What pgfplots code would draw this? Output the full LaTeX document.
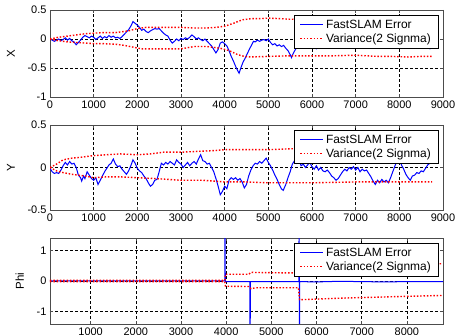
\documentclass[border=0pt]{standalone}
\usepackage{fontspec}
\setmainfont{Liberation Sans}
\usepackage{pgfplots}
\pgfplotsset{compat=1.18}
\definecolor{mblue}{RGB}{0,0,255}
\definecolor{mred}{RGB}{255,0,0}
\pgfplotsset{
  legend image code/.code={\draw[#1] (0bp,0bp) -- (23bp,0bp);},
  mystyle/.style={
    scale only axis, width=393bp, anchor=south west,
    axis line style={black!70, line width=0.8bp},
    tick style={black!70, line width=0.6bp}, tick align=inside, major tick length=3bp,
    grid=major, major grid style={black, dash pattern=on 2.5bp off 2.5bp, line width=0.5bp},
    tick label style={font=\fontsize{11}{12}\selectfont},
    ylabel style={font=\fontsize{11.5}{12}\selectfont},
    ylabel shift=6bp,
    legend style={at={(1,1)}, anchor=north east, xshift=-5bp, yshift=-5bp, draw=black, fill=white,
      font=\fontsize{12}{13}\selectfont, cells={anchor=west}, inner xsep=5bp, inner ysep=2.5bp},
    every axis plot/.append style={no markers},
  },
  bl/.style={mblue, line width=1bp},
  rd/.style={mred, line width=1.4bp, dash pattern=on 1.5bp off 1.8bp},
}
\begin{document}
\begin{tikzpicture}
\path[use as bounding box] (0,0) rectangle (455bp,335bp);
% ---------------- X ----------------
\begin{axis}[mystyle, at={(50bp,238bp)}, height=87bp,
  xmin=0, xmax=9000, ymin=-1, ymax=0.5,
  xtick={0,1000,...,9000}, xticklabels={0,1000,2000,3000,4000,5000,6000,7000,8000,9000},
  ytick={-1,-0.5,0,0.5}, yticklabels={-1,-0.5,0,0.5},
  ylabel={X}]
\addplot[bl] coordinates {
(0,0) (50,-0.02) (100,-0.04) (150,-0.02) (200,0) (250,-0.03) (300,-0.01) (350,0.02) (400,-0.02) (450,0.01)
(500,-0.03) (550,-0.05) (600,-0.1) (650,-0.06) (700,-0.02) (750,0.03) (800,0.06) (850,0.04) (900,0.02) (950,0.05)
(1000,0.03) (1050,-0.01) (1100,0.02) (1150,0.05) (1200,0.01) (1250,0.04) (1300,0.02) (1350,0.06) (1400,0.03) (1450,0.05)
(1500,0.02) (1550,0.03) (1600,0.01) (1650,0.04) (1700,0.08) (1750,0.12) (1800,0.16) (1850,0.22) (1900,0.3) (1950,0.27)
(2000,0.24) (2050,0.2) (2100,0.15) (2150,0.17) (2200,0.13) (2250,0.11) (2300,0.14) (2350,0.16) (2400,0.18) (2450,0.17)
(2500,0.18) (2550,0.14) (2600,0.1) (2650,0.07) (2700,0.05) (2750,-0.02) (2800,-0.07) (2850,-0.04) (2900,0) (2950,-0.03)
(3000,0.01) (3050,-0.01) (3100,0.02) (3150,0) (3200,0.03) (3250,0.07) (3300,0.04) (3350,0) (3400,0.02) (3450,-0.01)
(3500,-0.03) (3550,0) (3600,-0.04) (3650,-0.08) (3700,-0.12) (3750,-0.18) (3800,-0.24) (3850,-0.18) (3900,-0.07) (3950,-0.05)
(4000,-0.08) (4050,-0.12) (4100,-0.2) (4150,-0.3) (4200,-0.38) (4250,-0.47) (4300,-0.55) (4330,-0.59) (4370,-0.5) (4420,-0.4)
(4470,-0.33) (4520,-0.25) (4570,-0.17) (4620,-0.1) (4660,-0.04) (4700,-0.05) (4750,-0.02) (4800,-0.04) (4850,-0.02) (4900,-0.01)
(4950,-0.03) (5000,0) (5050,-0.06) (5100,-0.1) (5150,-0.08) (5200,-0.12) (5250,-0.1) (5300,-0.13) (5350,-0.11) (5400,-0.16)
(5450,-0.2) (5500,-0.27) (5530,-0.32) (5570,-0.25) (5620,-0.18) (5680,-0.13) (5750,-0.1) (5800,-0.08) (5900,-0.1) (6000,-0.13)
(6100,-0.17) (6200,-0.12) (6300,-0.08) (6500,-0.05) (6700,-0.1) (6900,-0.06) (7100,-0.09) (7300,-0.04) (7500,-0.08) (7700,-0.11)
(7900,-0.07) (8100,-0.1) (8300,-0.06) (8500,-0.1) (8650,-0.13) (8700,-0.17) (8750,-0.15)
};
\addlegendentry{FastSLAM Error}
\addplot[rd] coordinates {
(0,0) (200,0.03) (400,0.05) (600,0.07) (800,0.09) (1000,0.1) (1200,0.11) (1500,0.11) (1800,0.14) (2000,0.18)
(2200,0.2) (2500,0.2) (2800,0.2) (3000,0.2) (3300,0.19) (3600,0.19) (3800,0.2) (4000,0.22) (4200,0.27) (4400,0.33)
(4600,0.35) (4800,0.35) (5000,0.36) (5300,0.35) (5500,0.34) (6000,0.35) (7000,0.36) (8000,0.36) (8750,0.36)
};
\addlegendentry{Variance(2 Signma)}
\addplot[rd, forget plot] coordinates {
(0,0) (200,-0.03) (400,-0.05) (600,-0.06) (800,-0.07) (1000,-0.08) (1200,-0.08) (1500,-0.09) (1700,-0.11) (1900,-0.14)
(2100,-0.17) (2500,-0.17) (3000,-0.17) (3300,-0.13) (3600,-0.13) (3900,-0.16) (4100,-0.2) (4300,-0.27) (4450,-0.3) (4600,-0.31)
(5000,-0.3) (5500,-0.29) (6000,-0.29) (6500,-0.29) (7000,-0.28) (7500,-0.3) (7800,-0.3) (8200,-0.31) (8500,-0.3) (8750,-0.3)
};
\end{axis}
% ---------------- Y ----------------
\begin{axis}[mystyle, at={(50bp,125bp)}, height=85bp,
  xmin=0, xmax=9000, ymin=-0.5, ymax=0.5,
  xtick={0,1000,...,9000}, xticklabels={0,1000,2000,3000,4000,5000,6000,7000,8000,9000},
  ytick={-0.5,0,0.5}, yticklabels={-0.5,0,0.5},
  ylabel={Y}]
\addplot[bl] coordinates {
(0,-0.01) (50,-0.05) (100,-0.07) (150,-0.06) (200,-0.07) (250,-0.03) (300,0.02) (350,0.06) (400,0.03) (450,0.07)
(500,0.04) (550,0.05) (600,0) (650,-0.09) (700,-0.12) (725,-0.16) (770,-0.1) (800,-0.13) (850,-0.05) (900,-0.09)
(950,-0.13) (1000,-0.15) (1050,-0.12) (1100,-0.2) (1150,-0.15) (1200,-0.1) (1250,-0.05) (1300,-0.01) (1350,0.03) (1400,0.05)
(1450,0.1) (1500,0.04) (1550,0.01) (1600,0.02) (1650,-0.02) (1700,-0.05) (1750,-0.08) (1800,-0.04) (1850,0.02) (1900,0.09)
(1950,0.05) (2000,-0.01) (2050,-0.04) (2100,-0.06) (2150,-0.1) (2200,-0.13) (2250,-0.18) (2300,-0.22) (2350,-0.2) (2400,-0.15)
(2450,-0.14) (2500,-0.05) (2550,0.05) (2600,0.03) (2650,0.06) (2700,0.04) (2750,0.07) (2800,0.05) (2850,0.03) (2900,0.09)
(2950,0.06) (3000,0.04) (3050,0) (3100,0.03) (3150,0.06) (3200,0.02) (3250,0.05) (3300,0.07) (3350,0.04) (3400,0.1)
(3450,0.15) (3500,0.08) (3550,0.07) (3600,0.04) (3650,0.05) (3700,0) (3750,-0.05) (3800,-0.13) (3850,-0.22) (3900,-0.32)
(3950,-0.28) (4000,-0.22) (4050,-0.25) (4100,-0.15) (4150,-0.12) (4200,-0.14) (4250,-0.12) (4300,-0.15) (4350,-0.13) (4400,-0.17)
(4450,-0.24) (4500,-0.2) (4550,-0.1) (4600,-0.03) (4650,0.02) (4700,0.05) (4750,0.04) (4800,0.07) (4850,0.05) (4900,0.08)
(4950,0.11) (5000,0.06) (5050,0.02) (5100,-0.03) (5150,-0.09) (5200,-0.14) (5250,-0.2) (5300,-0.25) (5340,-0.27) (5400,-0.2)
(5450,-0.12) (5500,-0.05) (5550,0.04) (5600,0.08) (5650,0.05) (5700,0.09) (5750,0.02) (5800,0.04) (5850,0) (5900,0.03)
(5950,0.06) (6000,0.01) (6050,-0.02) (6100,0.02) (6150,-0.03) (6200,0) (6250,-0.04) (6300,-0.05) (6350,-0.03) (6400,-0.06)
(6450,-0.1) (6500,-0.12) (6550,-0.15) (6600,-0.13) (6650,-0.09) (6700,-0.05) (6750,-0.02) (6800,-0.04) (6850,0) (6900,-0.02)
(6950,0.01) (7000,-0.03) (7050,0) (7100,-0.05) (7150,-0.02) (7200,-0.04) (7250,-0.03) (7300,-0.07) (7350,-0.11) (7400,-0.16)
(7450,-0.2) (7500,-0.15) (7550,-0.18) (7600,-0.14) (7650,-0.17) (7700,-0.15) (7750,-0.18) (7800,-0.12) (7850,-0.05) (7900,0.02)
(7950,0.08) (8000,0.1) (8050,0.03) (8100,-0.02) (8150,-0.08) (8200,-0.12) (8250,-0.15) (8300,-0.1) (8350,-0.09) (8400,-0.06)
(8450,-0.07) (8500,-0.04) (8550,-0.05) (8600,-0.01) (8650,0.03) (8700,0.05) (8750,0.08)
};
\addlegendentry{FastSLAM Error}
\addplot[rd] coordinates {
(0,0) (150,0.04) (300,0.09) (500,0.11) (700,0.12) (1000,0.14) (1300,0.15) (1600,0.16) (2000,0.15) (2300,0.16)
(2600,0.18) (3000,0.18) (3400,0.19) (3800,0.2) (4000,0.21) (4500,0.21) (5000,0.21) (5500,0.22) (6500,0.22) (7500,0.22) (8750,0.22)
};
\addlegendentry{Variance(2 Signma)}
\addplot[rd, forget plot] coordinates {
(0,0) (150,-0.04) (300,-0.06) (500,-0.08) (800,-0.1) (1000,-0.12) (1300,-0.11) (1600,-0.11) (2000,-0.12) (2400,-0.13)
(2700,-0.14) (3000,-0.15) (3500,-0.15) (4000,-0.17) (4500,-0.17) (5000,-0.18) (6000,-0.18) (7000,-0.17) (8000,-0.17) (8750,-0.17)
};
\end{axis}
% ---------------- Phi ----------------
\begin{axis}[mystyle, at={(50bp,11bp)}, height=86bp,
  xmin=100, xmax=8800, ymin=-1.4, ymax=1.4,
  xtick={1000,2000,...,8000}, xticklabels={1000,2000,3000,4000,5000,6000,7000,8000},
  ytick={-1,0,1}, yticklabels={-1,0,1},
  ylabel={Phi}]
\addplot[bl] coordinates {
(100,0) (1000,0.005) (2000,0) (3000,0.005) (3970,0) (3975,3) (3980,0) (3990,-0.02) (4500,-0.02) (4525,-0.02)
(4530,-3) (4535,-0.02) (5000,-0.02) (5610,-0.02) (5615,3) (5622,-3) (5628,-0.02) (6000,-0.03) (6500,-0.01)
(7000,-0.02) (7500,-0.03) (8000,-0.02) (8500,-0.02) (8800,-0.02)
};
\addlegendentry{FastSLAM Error}
\addplot[rd] coordinates {
(100,0.02) (3970,0.02) (3985,0.22) (4500,0.22) (4550,0.28) (5000,0.27) (5600,0.26) (5625,0.62) (6000,0.61)
(7000,0.59) (8000,0.57) (8800,0.56)
};
\addlegendentry{Variance(2 Signma)}
\addplot[rd, forget plot] coordinates {
(100,-0.02) (3970,-0.02) (3985,-0.17) (4500,-0.18) (4550,-0.25) (4650,-0.22) (5000,-0.22) (5600,-0.22) (5625,-0.61) (6000,-0.59)
(6500,-0.56) (7000,-0.54) (7500,-0.52) (8000,-0.5) (8800,-0.47)
};
\end{axis}
\end{tikzpicture}
\end{document}
